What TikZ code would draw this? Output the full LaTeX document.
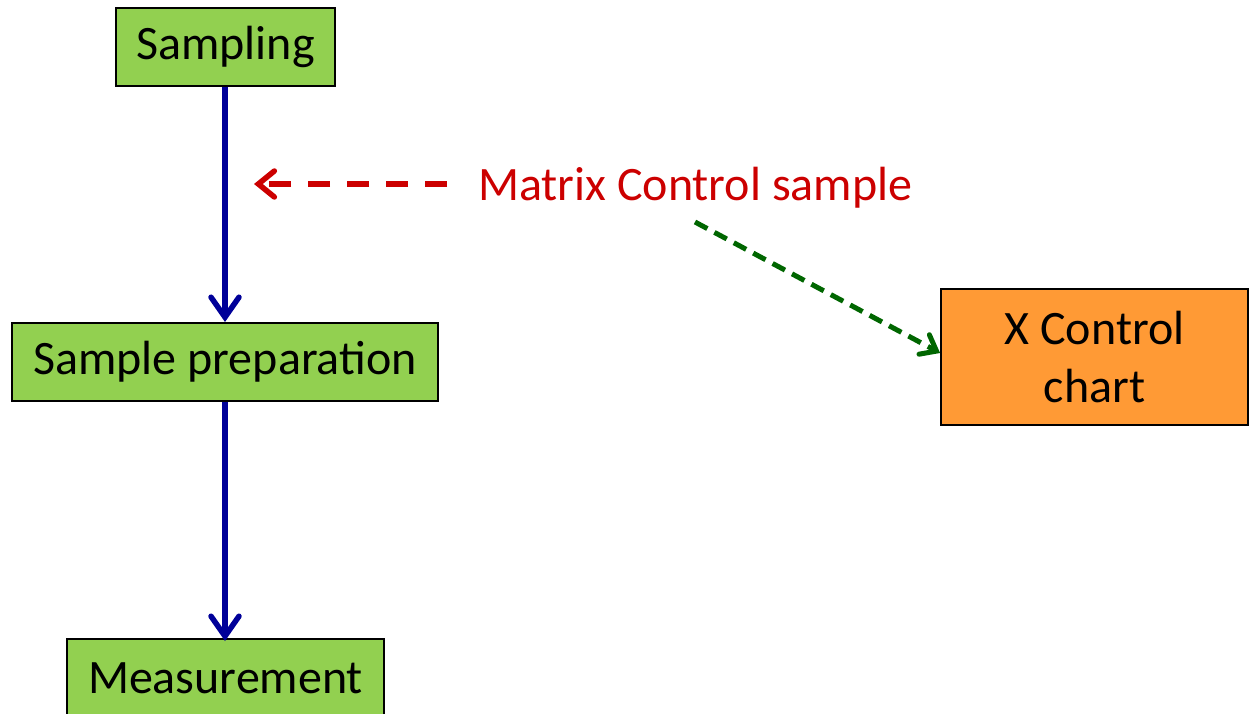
\documentclass[tikz,border=0pt]{standalone}
\usepackage{fontspec}
\setmainfont{Carlito}
\usetikzlibrary{arrows.meta}
\definecolor{boxgreen}{HTML}{92D050}
\definecolor{boxorange}{HTML}{FF9A35}
\definecolor{flowblue}{HTML}{000099}
\definecolor{ctrlred}{HTML}{CC0000}
\definecolor{ctrlgreen}{HTML}{006600}
\tikzset{
  flowbox/.style={draw=black, line width=1.8pt, fill=boxgreen, inner sep=0pt, font=\fontsize{48}{58}\selectfont},
  chartbox/.style={draw=black, line width=1.8pt, fill=boxorange, inner sep=0pt, align=center, font=\fontsize{48}{58}\selectfont},
  flowarrow/.style={draw=flowblue, line width=5.5pt, -{Straight Barb[length=20pt,width=28pt,line cap=round]}},
  redarrow/.style={draw=ctrlred, line width=5.5pt, dash pattern=on 22pt off 17pt, -{Straight Barb[length=16pt,width=26pt,line cap=round]}},
  greenarrow/.style={draw=ctrlgreen, line width=5pt, dash pattern=on 14pt off 8pt, -{Straight Barb[length=14pt,width=22pt,line cap=round]}},
  label/.style={text=ctrlred, inner sep=0pt, font=\fontsize{48}{58}\selectfont}
}
\begin{document}
\begin{tikzpicture}[x=1pt,y=-1pt]
\useasboundingbox (0,0) rectangle (1249,714);
\clip (0,0) rectangle (1249,714);
\node[flowbox, minimum width=219pt, minimum height=78pt] (samp) at (225.5,47) {\raisebox{-4pt}{Sampling}};
\node[flowbox, minimum width=426pt, minimum height=78pt] (prep) at (225,362) {\raisebox{-4pt}{Sample preparation}};
\node[flowbox, minimum width=317pt, minimum height=78pt] (meas) at (225.5,678) {\raisebox{-3pt}{Measurement}};
\node[chartbox, minimum width=307pt, minimum height=136pt] (chart) at (1094.5,357) {X Control\\chart};
\node[label, anchor=west] (mcs) at (478,188) {Matrix Control sample};
\coordinate (redstart) at (447,184);
\coordinate (redend) at (254,184);
\coordinate (greenstart) at (695,222);
\draw[flowarrow] (samp.south -| 225,0) -- (225,322);
\draw[flowarrow] (prep.south -| 225,0) -- (225,641);
\draw[redarrow] (redstart) -- (redend);
\draw[greenarrow] (greenstart) -- (chart.west |- 0,353);
\end{tikzpicture}
\end{document}
